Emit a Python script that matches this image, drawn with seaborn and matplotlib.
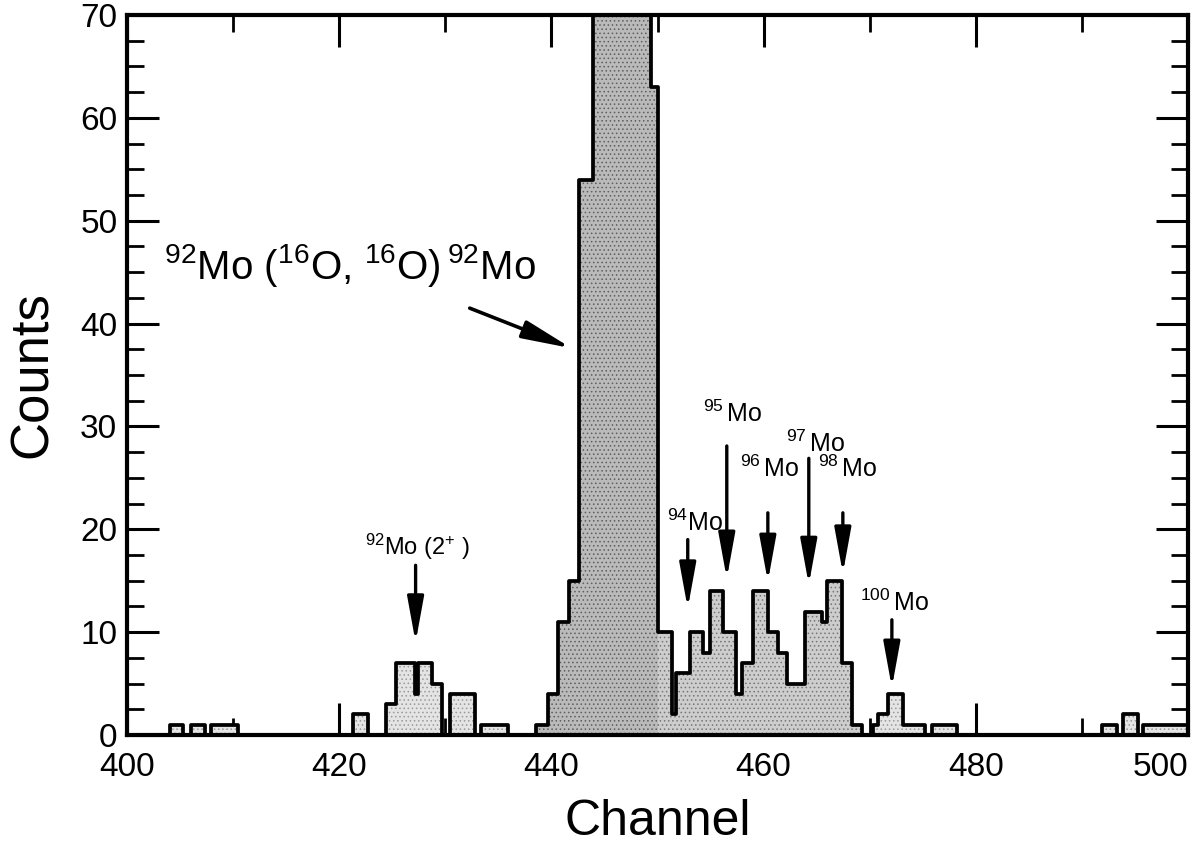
import numpy as np
import pandas as pd
import matplotlib
matplotlib.use("Agg")
import matplotlib.pyplot as plt
from matplotlib.ticker import MultipleLocator
import seaborn as sns

# Channel bin edges and counts of the 16O + 92Mo spectrum
bin_edges = [400.00, 404.01, 405.26, 406.05, 407.31, 407.94, 410.45, 421.29, 422.71,
             424.44, 425.32, 427.11, 427.42, 428.78, 429.72, 430.41, 432.77, 433.40,
             435.91, 438.59, 439.67, 440.62, 441.66, 442.60, 443.89, 449.34, 450.05,
             451.32, 451.72, 453.04, 454.30, 454.93, 456.18, 457.44, 457.92, 459.01,
             460.42, 461.37, 462.16, 463.89, 465.46, 465.93, 467.35, 468.29, 469.23,
             470.33, 470.80, 471.74, 473.15, 475.20, 475.83, 478.19, 491.86, 493.28,
             493.84, 495.26, 495.79, 500.00]
counts = [0, 1, 0, 1, 0, 1, 0, 2,
          0, 3, 7, 4, 7, 5, 0, 4, 0,
          1, 0, 1, 4, 11, 15, 54, 150, 63,
          10, 2, 6, 10, 8, 14, 10, 4, 7,
          14, 10, 8, 5, 12, 11, 15, 7, 1,
          0, 1, 2, 4, 1, 0, 1, 0, 1,
          0, 2, 0, 1]
x_ticks = [400, 420, 440, 460, 480, 500]

# Annotated isotopes: label, label anchor (channel, counts), arrow tail, arrow tip
iso_labels = [r"$^{94}$Mo", r"$^{95}\,$Mo", r"$^{96}\,$Mo", r"$^{97}\,$Mo",
              r"$^{98}\,$Mo", r"$^{100}\,$Mo", r"$^{92}$Mo (2$^{+}$ )"]
iso_text_x = [450.9, 454.3, 457.8, 462.1, 465.1, 469.1, 422.4]
iso_text_y = [19.8, 30.4, 25.1, 27.5, 25.1, 12.1, 17.5]
iso_size = [18, 18, 18, 18, 18, 18, 17]
arrow_x = [452.85, 456.53, 460.40, 464.26, 467.47, 472.09, 427.2]
arrow_tail_y = [19.0, 28.1, 21.6, 26.9, 21.6, 11.2, 16.5]
arrow_tip_y = [12.3, 15.2, 14.9, 14.6, 15.7, 4.6, 9.0]

edges = [float(e) for e in bin_edges]
weights = np.asarray(counts, dtype=float)
centers = 0.5 * (np.asarray(edges[:-1]) + np.asarray(edges[1:]))
spec = pd.DataFrame({"channel": centers, "counts": weights})

sns.set_theme(style="ticks")
plt.rcParams["font.family"] = ["Liberation Sans", "DejaVu Sans"]
plt.rcParams["mathtext.fontset"] = "custom"
plt.rcParams["mathtext.rm"] = "Liberation Sans"
plt.rcParams["mathtext.it"] = "Liberation Sans:italic"
plt.rcParams["mathtext.bf"] = "Liberation Sans:bold"
plt.rcParams["hatch.linewidth"] = 0.6

fig = plt.figure(figsize=(12.04, 8.51), dpi=100)
ax = fig.add_axes([0.1055, 0.1363, 0.8812, 0.8461])


def shaded(lo, hi, face, hatch_col):
    """Fill the part of the spectrum between channels lo and hi."""
    mask = (spec["channel"] >= lo) & (spec["channel"] < hi)
    part = spec.assign(counts=np.where(mask, spec["counts"], 0.0))
    n_before = len(ax.collections)
    sns.histplot(data=part, x="channel", weights="counts", bins=edges,
                 element="step", fill=True, color=face, alpha=1.0,
                 linewidth=0, ax=ax)
    for coll in ax.collections[n_before:]:
        coll.set_facecolor(face)
        coll.set_hatch("....")
        coll.set_edgecolor(hatch_col)
        coll.set_linewidth(0)


shaded(400, 437, "#e4e4e4", "#9a9a9a")
shaded(437, 450.1, "#bababa", "#5e5e5e")
shaded(450.1, 470, "#cdcdcd", "#767676")
shaded(470, 501, "#e4e4e4", "#9a9a9a")

# Outline of the spectrum
sns.histplot(data=spec, x="channel", weights="counts", bins=edges,
             element="step", fill=False, color="black", linewidth=2.7, ax=ax)

ax.set_xlim(400, 500)
ax.set_ylim(0, 70)
ax.set_xlabel("Channel", fontsize=36, labelpad=12, color="black")
ax.set_ylabel("Counts", fontsize=38, labelpad=16, color="black")

ax.set_xticks(x_ticks)
ax.xaxis.set_minor_locator(MultipleLocator(10))
ax.yaxis.set_major_locator(MultipleLocator(10))
ax.yaxis.set_minor_locator(MultipleLocator(2.5))
ax.tick_params(which="both", direction="in", top=True, right=True,
               colors="black", labelsize=24)
ax.tick_params(which="major", length=23, width=2.2)
ax.tick_params(which="minor", length=12, width=2.0)
ax.tick_params(axis="x", which="major", pad=12)
ax.tick_params(axis="y", which="major", pad=7)
for side in ax.spines.values():
    side.set_linewidth(3.0)
    side.set_color("black")
    side.set_visible(True)

# keep the last channel label inside the figure
ax.xaxis.get_major_ticks()[-1].label1.set_horizontalalignment("right")

# Reaction label with its arrow
ax.text(403.5, 44.3, r"$^{92}$Mo ($^{16}$O, $^{16}$O)$\,^{92}$Mo",
        fontsize=29, ha="left", va="baseline", color="black")
ax.annotate("", xy=(441.9, 37.6), xytext=(432.3, 41.5),
            arrowprops=dict(arrowstyle="-|>,head_length=1.2,head_width=0.22",
                            mutation_scale=25, lw=2.6, color="black",
                            shrinkA=0, shrinkB=0))

for lab, tx, ty, fs, axx, y0, y1 in zip(iso_labels, iso_text_x, iso_text_y, iso_size,
                                        arrow_x, arrow_tail_y, arrow_tip_y):
    ax.text(tx, ty, lab, fontsize=fs, ha="left", va="baseline", color="black")
    ax.annotate("", xy=(axx, y1), xytext=(axx, y0),
                arrowprops=dict(arrowstyle="-|>,head_length=1.1,head_width=0.2",
                                mutation_scale=25, lw=2.4, color="black",
                                shrinkA=0, shrinkB=0))

fig.savefig("out.png", dpi=100, facecolor="white")
